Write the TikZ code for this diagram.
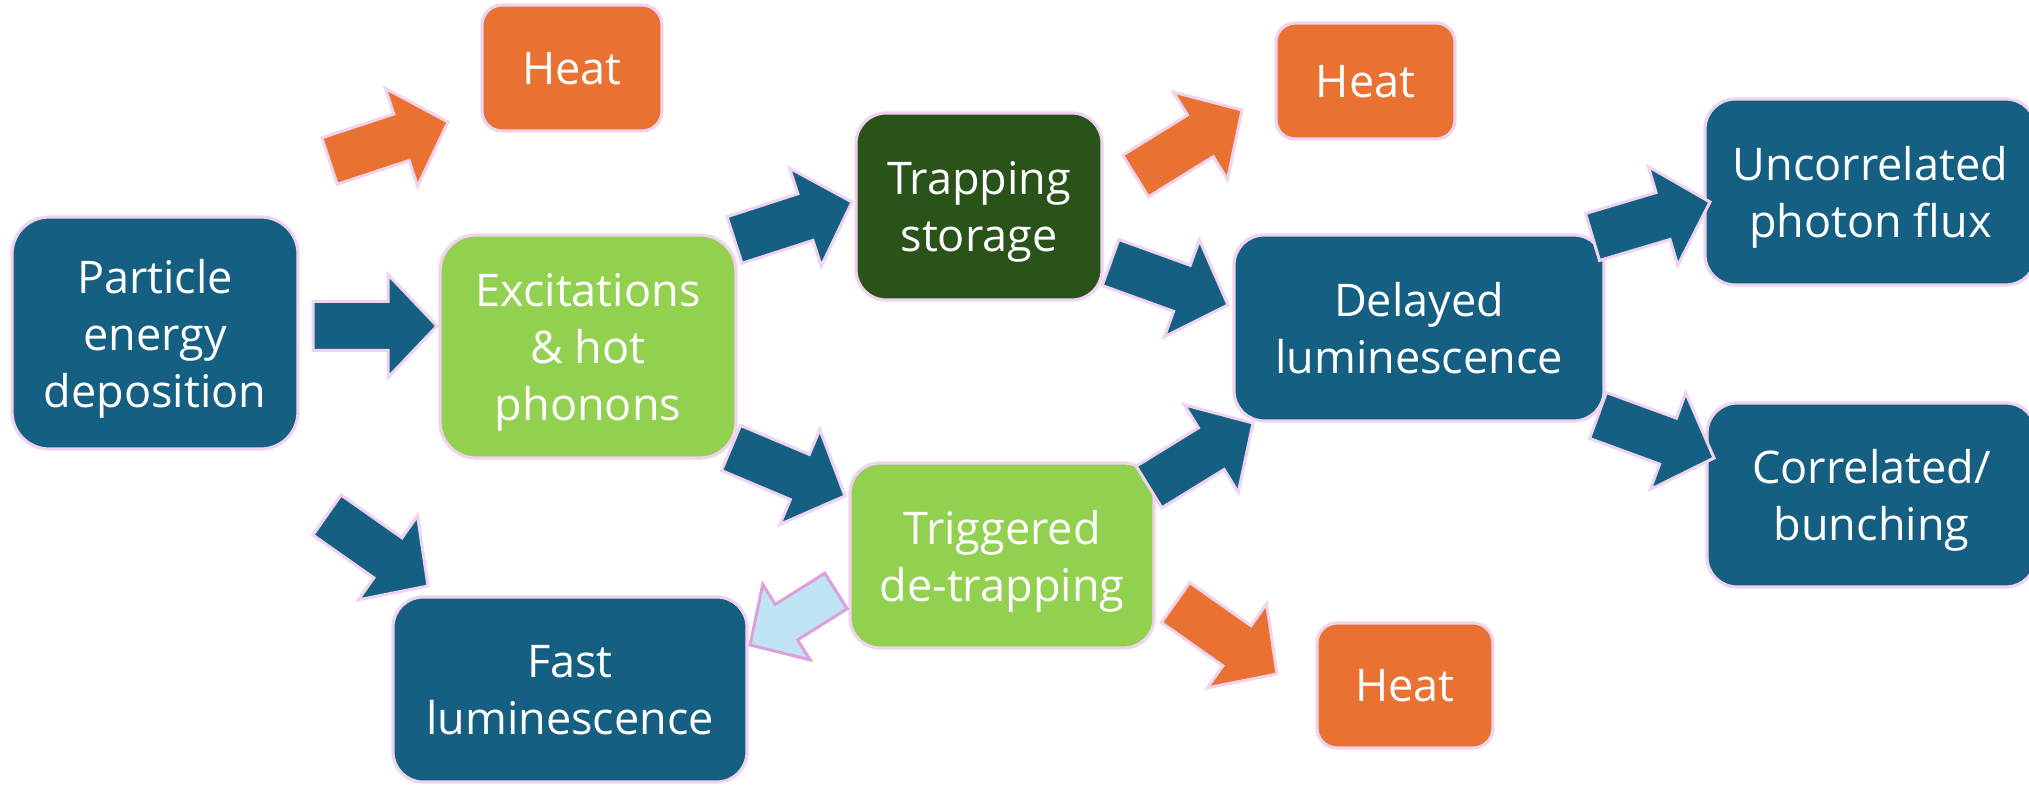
\documentclass[tikz,border=0pt]{standalone}
\usepackage{fontspec}
\setmainfont{Open Sans}
\usetikzlibrary{calc}
\definecolor{tblue}{HTML}{156082}
\definecolor{torange}{HTML}{E97132}
\definecolor{tlgreen}{HTML}{92D050}
\definecolor{tdgreen}{HTML}{2A5319}
\definecolor{tlblue}{HTML}{C1E4F5}
\definecolor{tpink}{HTML}{F0D3EE}
\definecolor{tviolet}{HTML}{DDA0DA}
\tikzset{
  box/.style={draw=tpink, line width=1.6pt, text=white, align=center, inner sep=0pt,
    text depth=0pt, font=\fontsize{22.5pt}{28.5pt}\selectfont},
  bluebox/.style={box, fill=tblue},
  orangebox/.style={box, fill=torange},
  greenbox/.style={box, fill=tlgreen},
  darkbox/.style={box, fill=tdgreen},
  arrbase/.style={line width=1.5pt, line join=miter},
  bluearr/.style={arrbase, draw=tpink, fill=tblue},
  orangearr/.style={arrbase, draw=tpink, fill=torange},
  lightarr/.style={arrbase, draw=tviolet, fill=tlblue},
}
% #1 style, #2 tail coordinate, #3 tip coordinate, #4 shaft half width, #5 head half width, #6 head length
\newcommand{\blockarrowgen}[6]{%
  \coordinate (tmpN) at ($(#3)!#6!(#2)$);
  \draw[#1] ($(#2)!#4!90:(#3)$) -- ($(tmpN)!#4!90:(#3)$) -- ($(tmpN)!#5!90:(#3)$) -- (#3)
    -- ($(tmpN)!#5!-90:(#3)$) -- ($(tmpN)!#4!-90:(#3)$) -- ($(#2)!#4!-90:(#3)$) -- cycle;}
\newcommand{\blockarrow}[3]{\blockarrowgen{#1}{#2}{#3}{12.25pt}{25.75pt}{24.5pt}}
\begin{document}
\begin{tikzpicture}[x=0.5pt, y=-0.5pt]
\clip (0,0) rectangle (2029,785);
\fill[white] (0,0) rectangle (2029,785);

% boxes
\node[bluebox, minimum width=143pt, minimum height=116pt, rounded corners=18.5pt] (part) at (155,333) {Particle\\energy\\deposition};
\node[orangebox, minimum width=90pt, minimum height=63pt, rounded corners=10pt] (heat1) at (572,68) {Heat};
\node[greenbox, minimum width=148pt, minimum height=111.5pt, rounded corners=18pt] (exc) at (588,346.5) {Excitations\\\& hot\\phonons};
\node[darkbox, minimum width=123pt, minimum height=93.5pt, rounded corners=15pt] (trap) at (979,206.5) {Trapping\\storage};
\node[orangebox, minimum width=89.5pt, minimum height=58pt, rounded corners=9.5pt] (heat2) at (1365.5,81) {Heat};
\node[bluebox, minimum width=185pt, minimum height=93pt, rounded corners=15pt] (delayed) at (1419,328) {Delayed\\luminescence};
\node[bluebox, minimum width=165.5pt, minimum height=93pt, rounded corners=15pt] (uncorr) at (1870.5,192) {Uncorrelated\\photon flux};
\node[bluebox, minimum width=164.5pt, minimum height=92pt, rounded corners=15pt] (corr) at (1871.5,495) {Correlated/\\bunching};
\node[greenbox, minimum width=152pt, minimum height=92.5pt, rounded corners=15pt] (trig) at (1002,555.5) {Triggered\\de-trapping};
\node[bluebox, minimum width=177pt, minimum height=92.5pt, rounded corners=15pt] (fast) at (570,689.5) {Fast\\luminescence};
\node[orangebox, minimum width=88pt, minimum height=62.5pt, rounded corners=10pt] (heat3) at (1405,685.5) {Heat};

% arrow end points
\coordinate (a1s) at (329.5,161);   \coordinate (a1e) at (448,122);
\coordinate (a2s) at (313,326);     \coordinate (a2e) at (437,326);
\coordinate (a3s) at (734.5,240);   \coordinate (a3e) at (852,202);
\coordinate (a4s) at (1135.5,176);  \coordinate (a4e) at (1242,110);
\coordinate (a5s) at (1110.5,262.5);\coordinate (a5e) at (1228,305);
\coordinate (a6s) at (1592.5,237);  \coordinate (a6e) at (1710,202);
\coordinate (a7s) at (327,515);     \coordinate (a7e) at (428,586);
\coordinate (a8s) at (731,448);     \coordinate (a8e) at (845,496);
\coordinate (a9s) at (836,591);     \coordinate (a9e) at (750,645);
\coordinate (a10s) at (1149,487);   \coordinate (a10e) at (1253,423);
\coordinate (a11s) at (1598,415.5); \coordinate (a11e) at (1714,458);
\coordinate (a12s) at (1175.5,602.5);\coordinate (a12e) at (1277,674);

% arrows
\blockarrow{orangearr}{a1s}{a1e}
\blockarrow{bluearr}{a2s}{a2e}
\blockarrow{bluearr}{a3s}{a3e}
\blockarrow{orangearr}{a4s}{a4e}
\blockarrow{bluearr}{a5s}{a5e}
\blockarrow{bluearr}{a6s}{a6e}
\blockarrow{bluearr}{a7s}{a7e}
\blockarrow{bluearr}{a8s}{a8e}
\blockarrowgen{lightarr}{a9s}{a9e}{10.5pt}{22.25pt}{21.5pt}
\blockarrow{bluearr}{a10s}{a10e}
\blockarrow{bluearr}{a11s}{a11e}
\blockarrow{orangearr}{a12s}{a12e}
\end{tikzpicture}
\end{document}
